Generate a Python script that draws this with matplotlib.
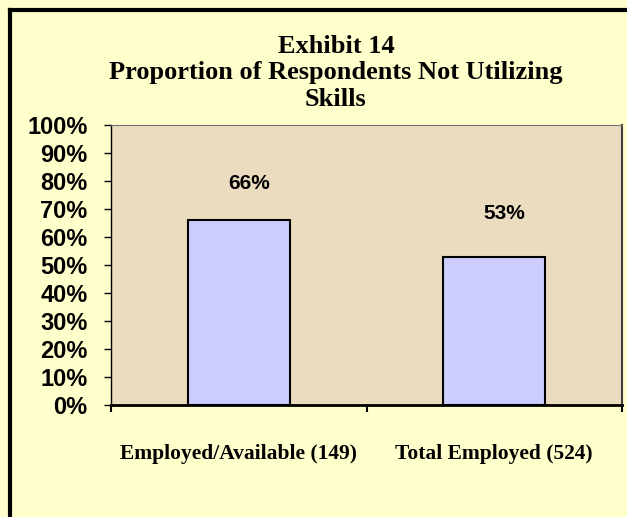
import numpy as np
import matplotlib.pyplot as plt
from matplotlib.lines import Line2D

categories = ['Employed/Available (149)', 'Total Employed (524)']
values = [66, 53]
labels = ['66%', '53%']
yticks = list(range(0, 101, 10))

fig = plt.figure(figsize=(6.27, 5.17), dpi=100)
fig.patch.set_facecolor('#ffffcc')

# outer frame (only left and top visible in the original)
fig.add_artist(Line2D([10/627, 10/627], [0, 1 - 10/517], transform=fig.transFigure, color='black', lw=3))
fig.add_artist(Line2D([10/627, 1], [1 - 10/517, 1 - 10/517], transform=fig.transFigure, color='black', lw=3))

ax = fig.add_axes([111/627, 1 - 405/517, 511/627, 280/517])
ax.set_facecolor('#ebdcbf')

x = np.arange(len(categories))
ax.bar(x, values, width=0.4, color='#ccccff', edgecolor='black', linewidth=1.5, zorder=3)
for xi, v, lab in zip(x, values, labels):
    ax.text(xi + 0.04, v + 13 if xi == 0 else v + 15.5, lab, ha='center', va='center',
            fontsize=15, fontweight='bold', family='Liberation Sans')

ax.set_xlim(-0.5, 1.5)
ax.set_ylim(0, 100)
ax.set_yticks(yticks)
ax.set_yticklabels([f'{t}%' for t in yticks], fontsize=17, fontweight='bold', family='Liberation Sans')
ax.set_xticks([-0.5, 0.5, 1.5])
ax.set_xticklabels([])
ax.tick_params(axis='y', direction='out', length=5, width=1, pad=12)
ax.tick_params(axis='x', direction='out', length=5, width=1.5)

for i, c in enumerate(categories):
    ax.text(i, -17.5, c, ha='center', va='center', fontsize=15.5, fontweight='bold',
            family='Liberation Serif', transform=ax.transData)

ax.spines['top'].set_color('#707070')
ax.spines['right'].set_color('#404040')
ax.spines['right'].set_linewidth(1.5)
ax.spines['bottom'].set_linewidth(2)
ax.spines['left'].set_linewidth(1)

fig.text(336/627, 1 - 73/517, 'Exhibit 14\nProportion of Respondents Not Utilizing\nSkills',
         ha='center', va='center', fontsize=19, fontweight='bold', family='Liberation Serif',
         linespacing=1.2)

fig.savefig('out.png', dpi=100, facecolor=fig.get_facecolor())
